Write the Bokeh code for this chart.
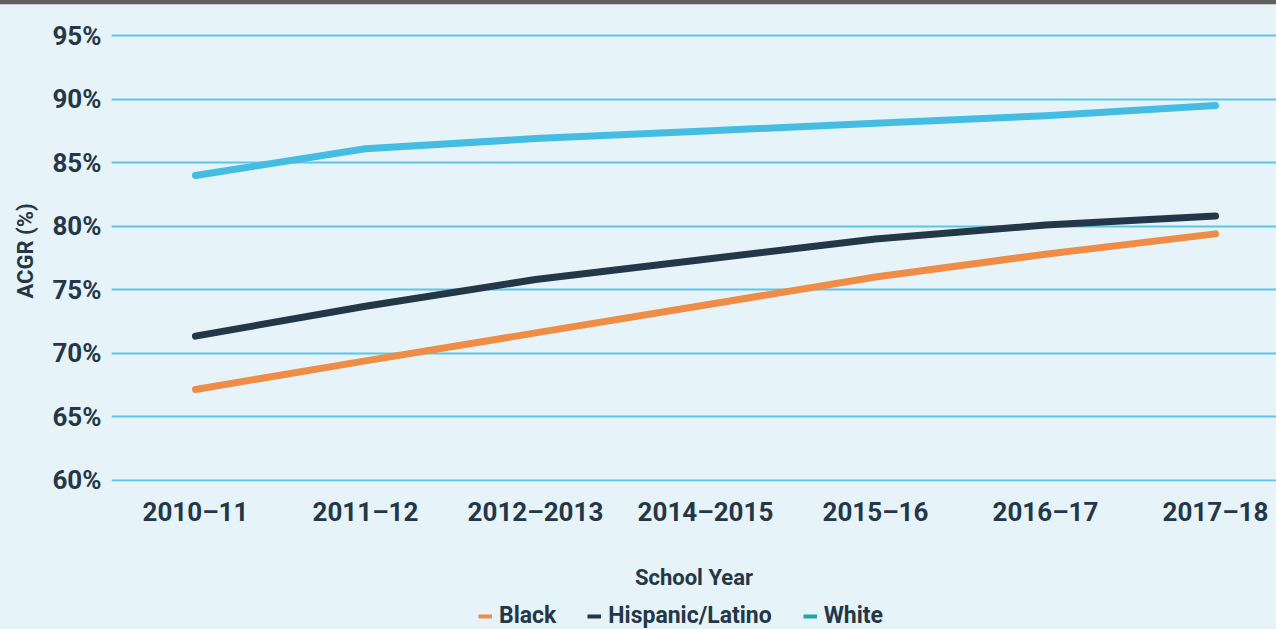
from bokeh.plotting import figure
from bokeh.models import FixedTicker, Legend, LegendItem, Range1d, Div
from bokeh.layouts import column
from bokeh.embed import file_html
from bokeh.resources import INLINE

years = ["2010–11", "2011–12", "2012–2013", "2014–2015", "2015–16", "2016–17", "2017–18"]
black = [67.15, 69.4, 71.6, 73.8, 76.0, 77.8, 79.4]
hispanic = [71.35, 73.7, 75.8, 77.4, 79.0, 80.1, 80.8]
white = [84.0, 86.1, 86.9, 87.5, 88.1, 88.7, 89.5]
y_ticks = [60, 65, 70, 75, 80, 85, 90, 95]
series_names = ["Black", "Hispanic/Latino", "White"]

BG = "#e6f4f9"
TXT = "#253746"
FONT = "Roboto"
W = 1276

xs = list(range(len(years)))

bar = Div(text="", width=W, height=5, margin=0,
          styles={"background": "linear-gradient(#5e5e5e 0px, #5e5e5e 4px, #c8c8c8 4px, #c8c8c8 5px)"})

p = figure(width=W, height=591, output_backend="svg", toolbar_location=None,
           x_range=Range1d(-0.494, 6.359), y_range=Range1d(59.9, 96.2),
           min_border_left=111, min_border_right=0, min_border_top=15,
           min_border_bottom=115)
p.background_fill_color = BG
p.border_fill_color = BG
p.outline_line_color = None

p.line(xs, black, line_color="#ef8c45", line_width=7, line_cap="round", line_join="round")
p.line(xs, hispanic, line_color="#233746", line_width=7, line_cap="round", line_join="round")
p.line(xs, white, line_color="#45bde3", line_width=7, line_cap="round", line_join="round")

p.xgrid.visible = False
p.ygrid.grid_line_color = "#5cc6e8"
p.ygrid.grid_line_width = 2
p.yaxis.ticker = FixedTicker(ticks=y_ticks)
p.yaxis.major_label_overrides = {v: f"{v}%" for v in y_ticks}
p.xaxis.ticker = FixedTicker(ticks=xs)
p.xaxis.major_label_overrides = {i: y for i, y in enumerate(years)}

for ax in (p.xaxis, p.yaxis):
    ax.axis_line_color = None
    ax.major_tick_line_color = None
    ax.minor_tick_line_color = None
    ax.major_label_text_font = FONT
    ax.major_label_text_font_style = "bold"
    ax.major_label_text_font_size = "26px"
    ax.major_label_text_color = TXT
    ax.axis_label_text_font = FONT
    ax.axis_label_text_font_style = "bold"
    ax.axis_label_text_color = TXT

p.yaxis.major_label_standoff = 4
p.xaxis.major_label_standoff = 9
p.yaxis.axis_label = "ACGR (%)"
p.yaxis.axis_label_text_font_size = "22px"
p.yaxis.axis_label_standoff = 11
p.xaxis.axis_label = "School Year"
p.xaxis.axis_label_text_font_size = "22px"
p.xaxis.axis_label_standoff = 35

# legend strip (the original shows a teal swatch for White)
q = figure(width=W, height=33, output_backend="svg", toolbar_location=None,
           x_range=Range1d(0, 1), y_range=Range1d(0, 1),
           min_border_left=0, min_border_right=0, min_border_top=0, min_border_bottom=0)
q.background_fill_alpha = 0
q.border_fill_color = BG
q.outline_line_color = None
q.axis.visible = False
q.grid.visible = False
legend_colors = ["#ef8c45", "#233746", "#1ea8a2"]
items = []
for name, col in zip(series_names, legend_colors):
    r = q.line([0, 1], [-5, -5], line_color=col, line_width=4)
    items.append(LegendItem(label=name, renderers=[r]))
legend = Legend(items=items, orientation="horizontal", location=(367, 0))
legend.background_fill_alpha = 0
legend.border_line_color = None
legend.label_text_font = FONT
legend.label_text_font_style = "bold"
legend.label_text_font_size = "23px"
legend.label_text_color = TXT
legend.glyph_width = 14
legend.glyph_height = 20
legend.label_standoff = 7
legend.spacing = 31
legend.padding = 0
legend.margin = 0
q.add_layout(legend)

layout = column(bar, p, q, spacing=0, styles={"background-color": BG})
open("out.html", "w").write(file_html(layout, INLINE))
